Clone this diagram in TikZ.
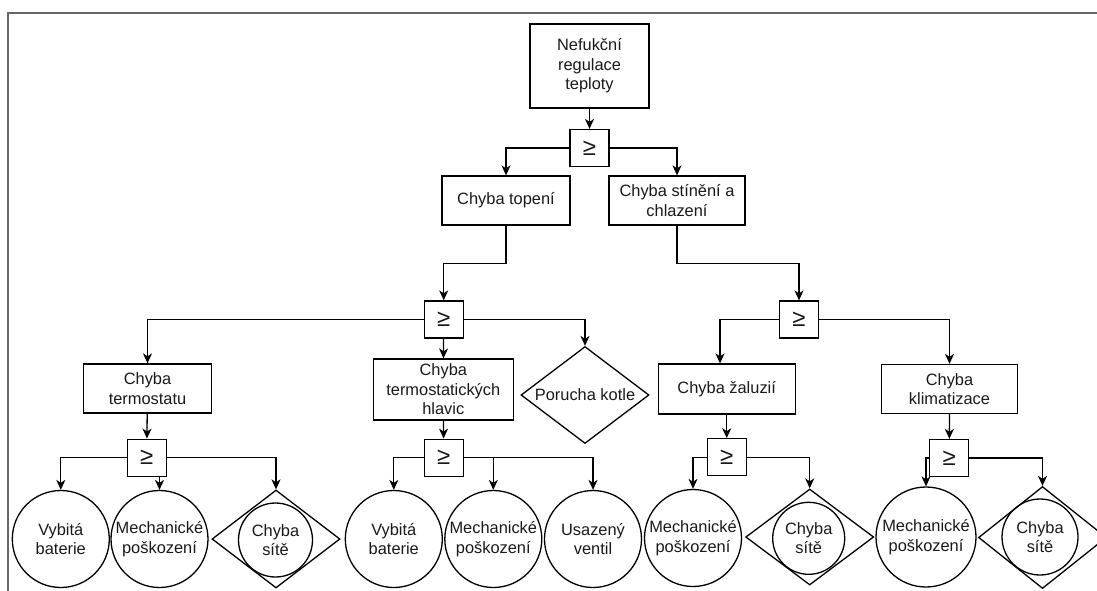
\documentclass[tikz,border=0pt]{standalone}
\usepackage{fontspec}
\setmainfont{Liberation Sans}
\usetikzlibrary{shapes.geometric,arrows.meta}
\begin{document}
\begin{tikzpicture}[x=1pt,y=-1pt,
  every node/.style={font=\fontsize{16.4}{19.5}\selectfont, text=black!90, line width=1.3pt},
  box/.style={draw, rectangle, inner sep=0pt, align=center},
  gate/.style={draw, rectangle, inner sep=0pt, minimum width=39pt, minimum height=37pt, font=\fontsize{24}{24}\selectfont},
  ev/.style={draw, circle, inner sep=0pt, minimum size=97pt, align=center},
  dia/.style={draw, diamond, aspect=1.6, inner sep=0pt, minimum width=128pt, minimum height=98pt, align=center},
  arr/.style={line width=1.3pt, -{Stealth[length=10pt,width=9pt,inset=3pt]}},
  frame/.style={line width=2pt, draw=black!60}
]
\path[use as bounding box] (0,0) rectangle (1097,590);
\clip (0,0) rectangle (1097,590);
% frame
\coordinate (fa) at (7.5,592);
\coordinate (fb) at (7.5,12.5);
\coordinate (fc) at (1099,12.5);
\draw[frame] (fa) -- (fb) -- (fc);

% level 0
\node[box, minimum width=119pt, minimum height=84pt] (top) at (589.5,66) {Nefukční\\regulace\\teploty};
\node[gate] (g1) at (589.5,148) {≥};
% level 1
\node[box, minimum width=128pt, minimum height=49pt] (topeni) at (506,200.5) {Chyba topení};
\node[box, minimum width=136pt, minimum height=49pt] (stineni) at (677,200.5) {Chyba stínění a\\chlazení};
\node[gate] (g2) at (443.7,319.5) {≥};
\node[gate] (g3) at (799,319.5) {≥};
\coordinate (j1) at (506,263.3);
\coordinate (j2) at (677,263.3);
% level 2
\node[box, minimum width=128pt, minimum height=49pt] (termo) at (147.5,388.5) {Chyba\\termostatu};
\node[box, minimum width=140pt, minimum height=61pt] (hlavic) at (443.3,389.5) {Chyba\\termostatických\\hlavic};
\node[dia, minimum height=97pt] (kotle) at (585,395) {Porucha kotle};
\node[box, minimum width=137pt, minimum height=50pt] (zal) at (726.7,389) {Chyba žaluzií};
\node[box, minimum width=136pt, minimum height=49pt] (klim) at (949.5,389) {Chyba\\klimatizace};
% gates level 3
\node[gate] (g5) at (146.7,457.7) {≥};
\node[gate] (g4) at (443.7,457.7) {≥};
\node[gate] (g6) at (726.7,457.3) {≥};
\node[gate] (g7) at (949.3,458) {≥};
% basic events
\node[ev] (c1) at (60.8,539) {Vybitá\\baterie};
\node[ev] (c2) at (159.5,539) {Mechanické\\poškození};
\node[dia] (d1) at (276,539) {};
\node[ev, minimum size=74pt] (d1c) at (275.5,540) {Chyba\\sítě};
\node[ev] (c3) at (393.8,539) {Vybitá\\baterie};
\node[ev] (c4) at (493.3,539) {Mechanické\\poškození};
\node[ev] (c5) at (593,539) {Usazený\\ventil};
\node[ev] (c6) at (693,538) {Mechanické\\poškození};
\node[dia, minimum height=96pt] (d2) at (809.7,537) {};
\node[ev, minimum size=72pt] (d2c) at (808.7,538.3) {Chyba\\sítě};
\node[ev, minimum size=100pt] (c7) at (926,537) {Mechanické\\poškození};
\node[dia, minimum height=102pt] (d3) at (1042.5,537.5) {};
\node[ev, minimum size=76pt] (d3c) at (1040,537) {Chyba\\sítě};

% connectors
\draw[arr] (top) -- (g1);
\draw[arr] (g1.west) -| (topeni.north);
\draw[arr] (g1.east) -| (stineni.north);
\draw[arr] (topeni.south) -- (j1) -| (g2.north);
\draw[arr] (stineni.south) -- (j2) -| (g3.north);
\draw[arr] (g2.west) -| (termo.north);
\draw[arr] (g2) -- (hlavic);
\draw[arr] (g2.east) -| (kotle.north);
\draw[arr] (g3.west) -| ([xshift=-6.7pt]zal.north);
\draw[arr] (g3.east) -| (klim.north);
\draw[arr] (termo) -- (g5);
\draw[arr] (hlavic) -- (g4);
\draw[arr] (zal) -- (g6);
\draw[arr] (klim) -- (g7);
\draw[arr] (g5.west) -| (c1.north);
\draw[arr] (c2.north |- g5.south) -- (c2.north);
\draw[arr] (g5.east) -| (d1.north);
\draw[arr] (g4.west) -| (c3.north);
\draw[arr] (c4.north |- g4.east) -- (c4.north);
\draw[arr] (g4.east) -| (c5.north);
\draw[arr] (g6.west) -| (c6.north);
\draw[arr] (g6.east) -| (d2.north);
\draw[arr] (g7.west) -| (c7.north);
\draw[arr] (g7.east) -| (d3.north);
\end{tikzpicture}
\end{document}
